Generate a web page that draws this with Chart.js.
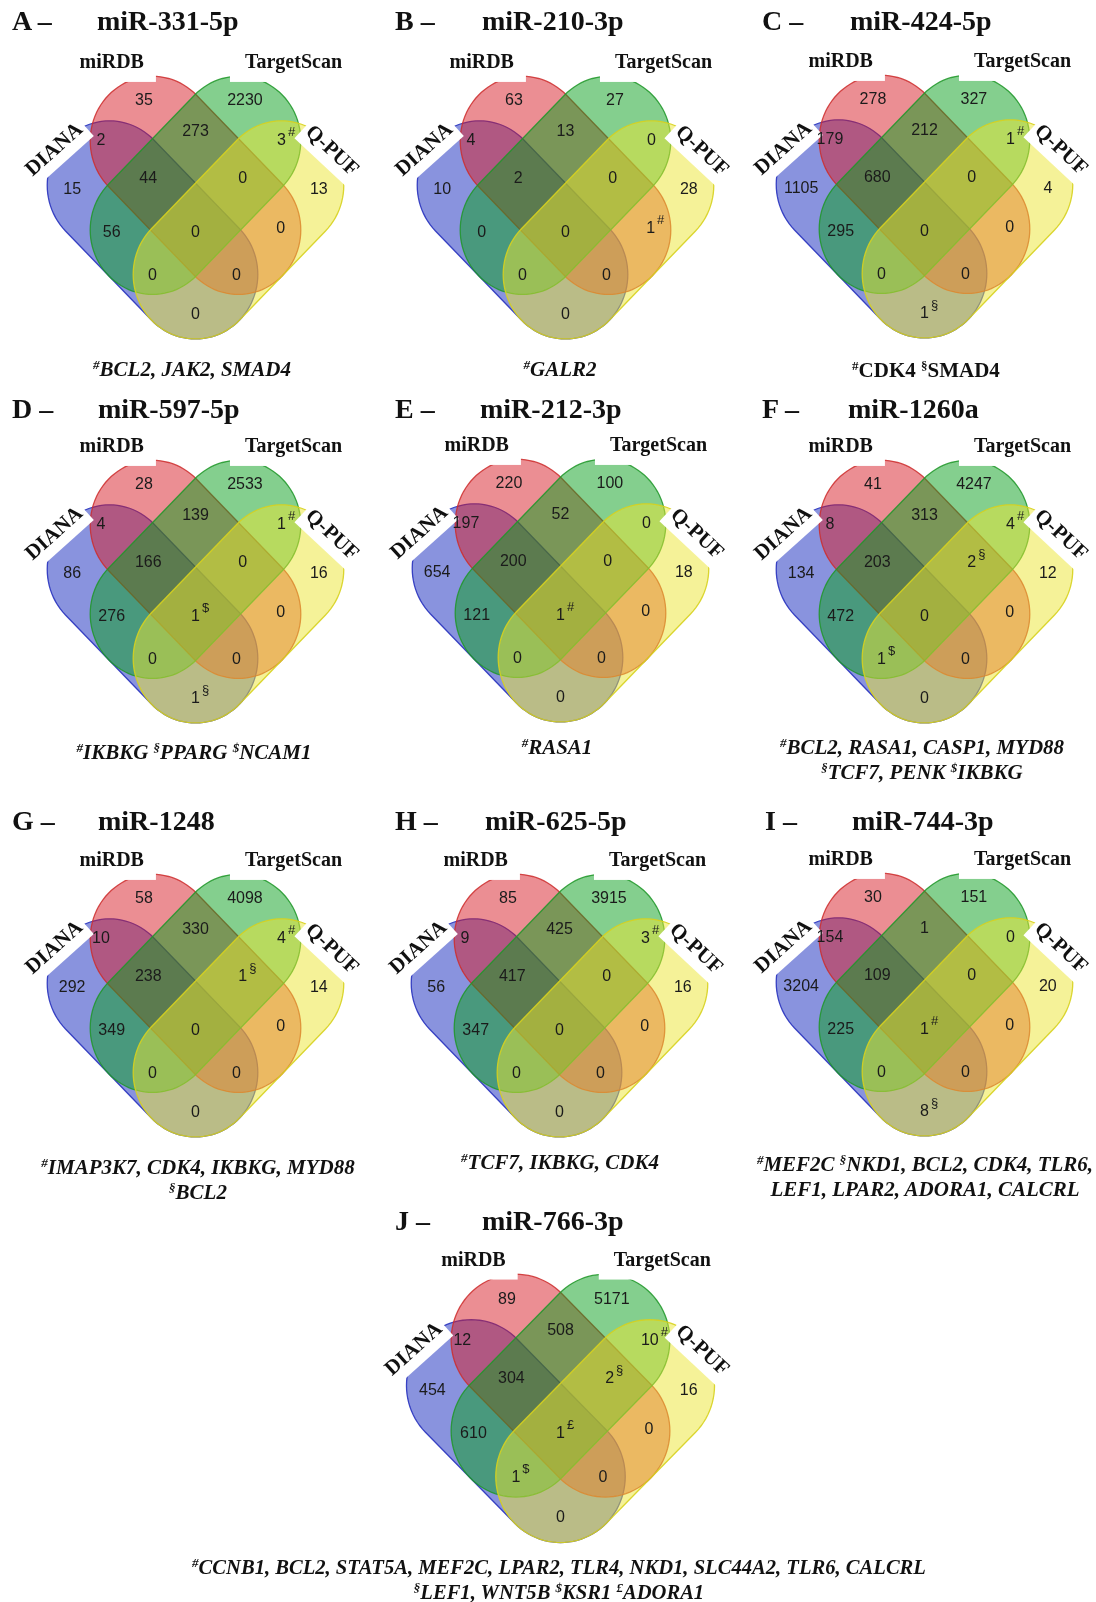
<!DOCTYPE html>
<html><head><meta charset="utf-8">
<script src="https://cdn.jsdelivr.net/npm/chart.js@4.4.0/dist/chart.umd.min.js"></script>
<style>
body{margin:0;background:#fff;width:1096px;height:1602px;position:relative;overflow:hidden;font-family:"Liberation Serif","Times New Roman",serif;color:#111;}
.t{position:absolute;white-space:nowrap;font-weight:bold;}
.title{font-size:28px;line-height:28px;transform:translateY(-50%);}
.foot{font-size:21px;line-height:25px;font-style:italic;text-align:center;transform:translate(-50%,-50%);}
.foot.up{font-style:normal;}
.foot.sm{font-size:20.6px;}
.foot sup{font-size:13px;vertical-align:7px;line-height:0;}
canvas{position:absolute;}
</style></head>
<body>
<script>
// ---------- DATA ----------
// region order: DIANA, miRDB, TargetScan, Q-PUF, D∩M, M∩T, T∩Q, D∩M∩T, M∩T∩Q, D∩T, all four, M∩Q, D∩T∩Q, D∩M∩Q, D∩Q
const setNames = ['DIANA','miRDB','TargetScan','Q-PUF'];
const panelLetters = ['A','B','C','D','E','F','G','H','I','J'];
const mirnas = ['miR-331-5p','miR-210-3p','miR-424-5p','miR-597-5p','miR-212-3p','miR-1260a','miR-1248','miR-625-5p','miR-744-3p','miR-766-3p'];

const countsA = [15,35,2230,13,2,273,3,44,0,56,0,0,0,0,0];
const countsB = [10,63,27,28,4,13,0,2,0,0,0,1,0,0,0];
const countsC = [1105,278,327,4,179,212,1,680,0,295,0,0,0,0,1];
const countsD = [86,28,2533,16,4,139,1,166,0,276,1,0,0,0,1];
const countsE = [654,220,100,18,197,52,0,200,0,121,1,0,0,0,0];
const countsF = [134,41,4247,12,8,313,4,203,2,472,0,0,1,0,0];
const countsG = [292,58,4098,14,10,330,4,238,1,349,0,0,0,0,0];
const countsH = [56,85,3915,16,9,425,3,417,0,347,0,0,0,0,0];
const countsI = [3204,30,151,20,154,1,0,109,0,225,1,0,0,0,8];
const countsJ = [454,89,5171,16,12,508,10,304,2,610,1,0,1,0,0];

const marksA = ['','','','','','','#','','','','','','','',''];
const marksB = ['','','','','','','','','','','','#','','',''];
const marksC = ['','','','','','','#','','','','','','','','§'];
const marksD = ['','','','','','','#','','','','$','','','','§'];
const marksE = ['','','','','','','','','','','#','','','',''];
const marksF = ['','','','','','','#','','§','','','','$','',''];
const marksG = ['','','','','','','#','','§','','','','','',''];
const marksH = ['','','','','','','#','','','','','','','',''];
const marksI = ['','','','','','','','','','','#','','','','§'];
const marksJ = ['','','','','','','#','','§','','£','','$','',''];

const footA = [[['#','BCL2, JAK2, SMAD4']]];
const footB = [[['#','GALR2']]];
const footC = [[['#','CDK4 '],['§','SMAD4']]];
const footD = [[['#','IKBKG '],['§','PPARG '],['$','NCAM1']]];
const footE = [[['#','RASA1']]];
const footF = [[['#','BCL2, RASA1, CASP1, MYD88']],[['§','TCF7, PENK '],['$','IKBKG']]];
const footG = [[['#','IMAP3K7, CDK4, IKBKG, MYD88']],[['§','BCL2']]];
const footH = [[['#','TCF7, IKBKG, CDK4']]];
const footI = [[['#','MEF2C '],['§','NKD1, BCL2, CDK4, TLR6,']],[['','LEF1, LPAR2, ADORA1, CALCRL']]];
const footJ = [[['#','CCNB1, BCL2, STAT5A, MEF2C, LPAR2, TLR4, NKD1, SLC44A2, TLR6, CALCRL']],[['§','LEF1, WNT5B '],['$','KSR1 '],['£','ADORA1']]];

const allCounts = [countsA,countsB,countsC,countsD,countsE,countsF,countsG,countsH,countsI,countsJ];
const allMarks = [marksA,marksB,marksC,marksD,marksE,marksF,marksG,marksH,marksI,marksJ];
const allFoots = [footA,footB,footC,footD,footE,footF,footG,footH,footI,footJ];

// ---------- LAYOUT (positions / styles) ----------
const ANCHOR = [[-2.87,-0.9],[-1.2,-2.9],[1.15,-2.9],[2.87,-0.9],[-2.2,-2],[0,-2.2],[2,-2],[-1.1,-1.15],[1.1,-1.15],[-1.95,0.05],[0,0.05],[1.98,-0.03],[-1.0,1.02],[0.95,1.02],[0,1.9]];
const RAD = 1.45;
const SHAPES = [ // capsule end centres (grid units, y down)
  {a:[-2,-1],b:[0,1], fill:'rgba(20,40,190,0.5)', stroke:'rgba(40,50,190,0.9)'},
  {a:[-1,-2],b:[1,0], fill:'rgba(215,30,40,0.5)', stroke:'rgba(205,45,45,0.85)'},
  {a:[1,-2],b:[-1,0], fill:'rgba(10,160,30,0.5)', stroke:'rgba(30,150,40,0.85)'},
  {a:[2,-1],b:[0,1], fill:'rgba(235,230,50,0.5)', stroke:'rgba(215,210,30,0.9)'}
];
const SETLABEL = [ // pad: [side, above, below]
  {x:-3.28,y:-1.8,rot:-42,size:21,pad:[4,13,16]},
  {x:-1.95,y:-3.75,rot:0,size:20,pad:[12,12,19]},
  {x:2.28,y:-3.75,rot:0,size:20,pad:[15,12,19]},
  {x:3.17,y:-1.77,rot:43,size:21,pad:[4,13,16]}
];
const PANELS = [
  {o:[196,230],u:[43,44.5],title:[12,97,21],foot:[192,369]},
  {o:[566,230],u:[43,44.5],title:[395,482,21],foot:[560,369]},
  {o:[925,229],u:[43,44.5],title:[762,850,21],foot:[926,370],upright:true},
  {o:[196,614],u:[43,44.5],title:[12,98,409],foot:[194,752]},
  {o:[561,613],u:[43,44.5],title:[395,480,409],foot:[557,747]},
  {o:[925,614],u:[43,44.5],title:[762,848,409],foot:[922,760]},
  {o:[196,1028],u:[43,44.5],title:[12,98,821],foot:[198,1180]},
  {o:[560,1028],u:[43,44.5],title:[395,485,821],foot:[560,1162]},
  {o:[925,1027],u:[43,44.5],title:[765,852,821],foot:[925,1177]},
  {o:[561,1431],u:[44.7,45.5],title:[395,482,1221],foot:[559,1580],small:true}
];
const XR=[-4.2,4.2], YR=[-4.4,2.9];

function capsule(a,b,r){
  const dx=b[0]-a[0], dy=b[1]-a[1];
  const th=Math.atan2(dy,dx), pts=[];
  for(let k=0;k<=48;k++){const t=th-Math.PI/2+Math.PI*k/48; pts.push([b[0]+r*Math.cos(t), b[1]+r*Math.sin(t)]);}
  for(let k=0;k<=48;k++){const t=th+Math.PI/2+Math.PI*k/48; pts.push([a[0]+r*Math.cos(t), a[1]+r*Math.sin(t)]);}
  return pts;
}

const vennPlugin = {
  id:'venn',
  beforeDatasetsDraw(chart){
    const {ctx, scales:{x,y}} = chart;
    ctx.save();
    SHAPES.forEach(s=>{
      ctx.beginPath();
      capsule(s.a,s.b,RAD).forEach((p,k)=>{
        const px=x.getPixelForValue(p[0]), py=y.getPixelForValue(p[1]);
        k?ctx.lineTo(px,py):ctx.moveTo(px,py);
      });
      ctx.closePath();
      ctx.fillStyle=s.fill; ctx.fill();
      ctx.strokeStyle=s.stroke; ctx.lineWidth=1.3; ctx.stroke();
    });
    SETLABEL.forEach((L,i)=>{
      ctx.save();
      ctx.translate(x.getPixelForValue(L.x), y.getPixelForValue(L.y));
      ctx.rotate(L.rot*Math.PI/180);
      ctx.font='bold '+L.size+'px "Liberation Serif", "Times New Roman", serif';
      const w=ctx.measureText(setNames[i]).width;
      ctx.fillStyle='#fff';
      ctx.fillRect(-w/2-L.pad[0], -L.pad[1], w+2*L.pad[0], L.pad[1]+L.pad[2]);
      ctx.restore();
    });
    ctx.restore();
  },
  afterDatasetsDraw(chart){
    const {ctx, scales:{x,y}} = chart;
    const ds = chart.data.datasets[0];
    const meta = chart.getDatasetMeta(0);
    ctx.save();
    ctx.textAlign='center'; ctx.textBaseline='middle';
    meta.data.forEach((el,i)=>{
      const d = ds.data[i];
      ctx.font='16px "Liberation Sans", Arial, sans-serif';
      ctx.fillStyle='#1b1b1b';
      const txt=String(d.v);
      ctx.fillText(txt, el.x, el.y);
      if(d.m){
        const w=ctx.measureText(txt).width;
        ctx.font='13px "Liberation Sans", Arial, sans-serif';
        ctx.textAlign='left';
        ctx.fillText(d.m, el.x+w/2+2, el.y-8);
        ctx.textAlign='center';
      }
    });
    ctx.fillStyle='#111';
    SETLABEL.forEach((L,i)=>{
      ctx.save();
      ctx.translate(x.getPixelForValue(L.x), y.getPixelForValue(L.y));
      ctx.rotate(L.rot*Math.PI/180);
      ctx.font='bold '+L.size+'px "Liberation Serif", "Times New Roman", serif';
      ctx.fillText(setNames[i],0,0);
      ctx.restore();
    });
    ctx.restore();
  }
};

function el(tag,cls,html,style){const e=document.createElement(tag);e.className=cls;e.innerHTML=html;Object.assign(e.style,style);document.body.appendChild(e);return e;}

PANELS.forEach((P,pi)=>{
  const [ux,uy]=P.u;
  const W=Math.round((XR[1]-XR[0])*ux), H=Math.round((YR[1]-YR[0])*uy);
  const cv=document.createElement('canvas');
  cv.width=W; cv.height=H;
  cv.style.left=(P.o[0]+XR[0]*ux)+'px';
  cv.style.top=(P.o[1]+YR[0]*uy)+'px';
  cv.style.width=W+'px'; cv.style.height=H+'px';
  document.body.appendChild(cv);
  const counts=allCounts[pi], marks=allMarks[pi];
  new Chart(cv,{
    type:'scatter',
    data:{datasets:[{
      label:mirnas[pi],
      data:counts.map((v,i)=>({x:ANCHOR[i][0],y:ANCHOR[i][1],v:v,m:marks[i]})),
      pointRadius:0,pointHoverRadius:0
    }]},
    options:{
      responsive:false,animation:false,devicePixelRatio:1,
      layout:{padding:0},
      plugins:{legend:{display:false},tooltip:{enabled:false}},
      events:[],
      scales:{
        x:{type:'linear',min:XR[0],max:XR[1],display:false},
        y:{type:'linear',min:YR[0],max:YR[1],reverse:true,display:false}
      }
    },
    plugins:[vennPlugin]
  });
  el('div','t title',panelLetters[pi]+' –',{left:P.title[0]+'px',top:P.title[2]+'px'});
  el('div','t title',mirnas[pi],{left:P.title[1]+'px',top:P.title[2]+'px'});
  const html = allFoots[pi].map(line=>line.map(([s,t])=>(s?'<sup>'+s+'</sup>':'')+t).join('')).join('<br>');
  el('div','t foot'+(P.upright?' up':'')+(P.small?' sm':''),html,{left:P.foot[0]+'px',top:P.foot[1]+'px'});
});
</script>
</body></html>
